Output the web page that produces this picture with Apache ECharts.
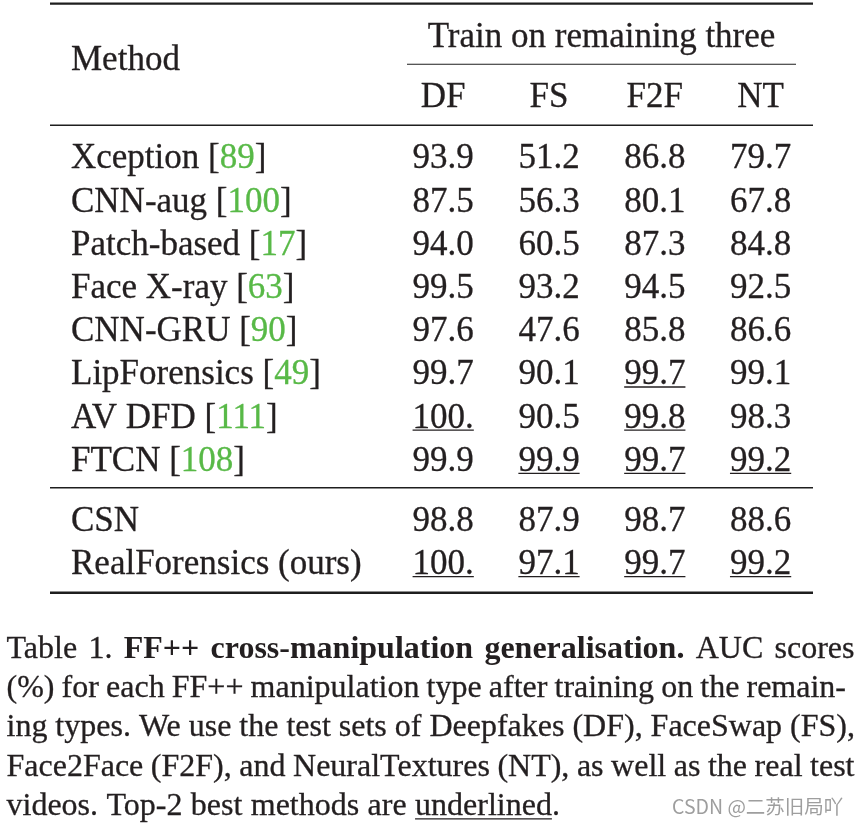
<!DOCTYPE html>
<html><head><meta charset="utf-8">
<script src="https://cdn.jsdelivr.net/npm/echarts@6/dist/echarts.min.js"></script>
<style>html,body{margin:0;padding:0;background:#fff}#c{width:860px;height:826px}</style>
</head><body><div id="c"></div>
<script>
// ---------- data ----------
const columns = ['DF', 'FS', 'F2F', 'NT'];
const baselineMethods = ['Xception', 'CNN-aug', 'Patch-based', 'Face X-ray', 'CNN-GRU', 'LipForensics', 'AV DFD', 'FTCN'];
const baselineRefs = ['89', '100', '17', '63', '90', '49', '111', '108'];
const oursMethods = ['CSN', 'RealForensics (ours)'];
const dfScores  = [93.9, 87.5, 94.0, 99.5, 97.6, 99.7, 100.0, 99.9, 98.8, 100.0];
const fsScores  = [51.2, 56.3, 60.5, 93.2, 47.6, 90.1, 90.5, 99.9, 87.9, 97.1];
const f2fScores = [86.8, 80.1, 87.3, 94.5, 85.8, 99.7, 99.8, 99.7, 98.7, 99.7];
const ntScores  = [79.7, 67.8, 84.8, 92.5, 86.6, 99.1, 98.3, 99.2, 88.6, 99.2];
const dfTop2  = [0, 0, 0, 0, 0, 0, 1, 0, 0, 1];
const fsTop2  = [0, 0, 0, 0, 0, 0, 0, 1, 0, 1];
const f2fTop2 = [0, 0, 0, 0, 0, 1, 1, 1, 0, 1];
const ntTop2  = [0, 0, 0, 0, 0, 0, 0, 1, 0, 1];
const groupHeader = 'Train on remaining three';
const methodHeader = 'Method';
const captionLines = [
  [['Table 1.', false], ['FF++ cross-manipulation generalisation.', true], ['AUC scores', false]],
  [['(%) for each FF++ manipulation type after training on the remain-', false]],
  [['ing types. We use the test sets of Deepfakes (DF), FaceSwap (FS),', false]],
  [['Face2Face (F2F), and NeuralTextures (NT), as well as the real test', false]],
  [['videos. Top-2 best methods are', false], ['underlined', false, true], ['.', false, false, true]]
];
const watermark = 'CSDN @二苏旧局吖';

// ---------- styles ----------
const SERIF = '"Liberation Serif", "Times New Roman", Times, serif';
const INK = '#231f20';
const CITE = '#58b947';
const TFS = 35;            // table font size
const CFS = 32;            // caption font size
const TABLE_FONT = TFS + 'px ' + SERIF;
const MID = 0.22;          // baseline offset below the 'middle' anchor, in em
const THICK = 0.3;         // faux-weight stroke

const mctx = document.createElement('canvas').getContext('2d');
function measure(t, font) { mctx.font = font; return mctx.measureText(t).width; }
function fmt(v) { return v >= 100 ? '100.' : v.toFixed(1); }

const cols = [[dfScores, dfTop2], [fsScores, fsTop2], [f2fScores, f2fTop2], [ntScores, ntTop2]];
const data0 = [], data1 = [];
cols.forEach(([vals, flags], c) => {
  vals.forEach((v, r) => {
    if (r < baselineMethods.length) data0.push([c, r, v, flags[r]]);
    else data1.push([c, r - baselineMethods.length, v, flags[r]]);
  });
});

function renderCell(params, api) {
  const p = api.coord([api.value(0), api.value(1)]);
  const txt = fmt(api.value(2));
  const children = [{
    type: 'text',
    style: { text: txt, x: p[0], y: p[1], font: TABLE_FONT, fill: INK, stroke: INK, lineWidth: THICK,
             align: 'center', verticalAlign: 'middle' }
  }];
  if (api.value(3)) {
    const w = measure(txt, TABLE_FONT);
    const uy = p[1] + TFS * MID + 4;
    children.push({
      type: 'line',
      shape: { x1: p[0] - w / 2, y1: uy, x2: p[0] + w / 2, y2: uy },
      style: { stroke: INK, lineWidth: 1.3 }
    });
  }
  return { type: 'group', children };
}

const refMap = {};
baselineMethods.forEach((m, i) => { refMap[m] = baselineRefs[i]; });
function methodLabel(v) {
  return refMap[v] ? '{n|' + v + ' [}{r|' + refMap[v] + '}{n|]}' : '{n|' + v + '}';
}

const gridLeft = 390.3, gridWidth = 423.2;
const LABEL_X = 71;
const yLabel = {
  align: 'left', margin: gridLeft - LABEL_X, formatter: methodLabel,
  rich: {
    n: { fontFamily: SERIF, fontSize: TFS, color: INK, textBorderColor: INK, textBorderWidth: THICK },
    r: { fontFamily: SERIF, fontSize: TFS, color: CITE, textBorderColor: CITE, textBorderWidth: THICK }
  }
};

// ---------- graphic: rules, headers, caption ----------
const graphics = [];
function rule(x1, x2, y, w) {
  graphics.push({ type: 'line', shape: { x1, y1: y, x2, y2: y }, style: { stroke: '#1e1e1e', lineWidth: w }, silent: true });
}
rule(50, 813, 3.7, 2.2);
rule(407, 796, 64.3, 1.1);
rule(50, 813, 125.3, 1.5);
rule(50, 813, 487.8, 1.5);
rule(50, 813, 592.8, 2.4);

function textAt(text, x, baseline, font, fill, align, size, thick) {
  graphics.push({ type: 'text', silent: true,
    style: { text, x, y: baseline - size * MID, font, fill, stroke: fill, lineWidth: thick,
             align: align || 'left', verticalAlign: 'middle' } });
}
textAt(methodHeader, LABEL_X, 68.3, TABLE_FONT, INK, 'left', TFS, THICK);
textAt(groupHeader, 601.5, 45.2, TABLE_FONT, INK, 'center', TFS, THICK);

// caption, justified
const capLeft = 6.5;
const capRights = [854.5, 846, 855, 854.5, null];
const capBase0 = 656.7, capStep = 39.15;
captionLines.forEach((segs, li) => {
  const words = [];
  segs.forEach(([txt, bold, underline, attach]) => {
    txt.split(' ').forEach(w => { if (w) words.push({ w, bold, underline, attach }); });
  });
  words.forEach(o => { o.font = (o.bold ? 'bold ' : '') + CFS + 'px ' + SERIF; o.width = measure(o.w, o.font); });
  const gaps = words.filter((o, i) => i > 0 && !o.attach).length;
  const total = words.reduce((s, o) => s + o.width, 0);
  const sp = capRights[li] != null ? (capRights[li] - capLeft - total) / gaps : measure(' ', CFS + 'px ' + SERIF) * 1.05;
  const base = capBase0 + capStep * li;
  let x = capLeft;
  words.forEach((o, i) => {
    if (i > 0 && !o.attach) x += sp;
    textAt(o.w, x, base, o.font, INK, 'left', CFS, o.bold ? 0 : THICK);
    if (o.underline) {
      graphics.push({ type: 'line', silent: true,
        shape: { x1: x, y1: base + 5.5, x2: x + o.width, y2: base + 5.5 },
        style: { stroke: INK, lineWidth: 1.3 } });
    }
    x += o.width;
  });
});

graphics.push({ type: 'text', silent: true,
  style: { text: watermark, x: 672, y: 807, font: '19.5px "Noto Sans CJK SC", "Noto Sans", sans-serif', fill: '#9e9e9e', align: 'left', verticalAlign: 'middle' } });

// ---------- chart ----------
const rowTop0 = 167 - TFS * MID - 21.6;
const rowTop1 = 529.3 - TFS * MID - 21.7;
const chart = echarts.init(document.getElementById('c'), null, { renderer: 'canvas' });
chart.setOption({
  animation: false,
  backgroundColor: '#ffffff',
  grid: [
    { left: gridLeft, width: gridWidth, top: rowTop0, height: 345.6 },
    { left: gridLeft, width: gridWidth, top: rowTop1, height: 86.8 }
  ],
  xAxis: [
    { type: 'category', gridIndex: 0, data: columns, position: 'top',
      axisLine: { show: false }, axisTick: { show: false }, splitLine: { show: false },
      axisLabel: { margin: rowTop0 - (106 - TFS * MID), verticalAlign: 'middle', fontFamily: SERIF, fontSize: TFS,
                   color: INK, textBorderColor: INK, textBorderWidth: THICK, interval: 0 } },
    { type: 'category', gridIndex: 1, data: columns, show: false }
  ],
  yAxis: [
    { type: 'category', gridIndex: 0, data: baselineMethods, inverse: true,
      axisLine: { show: false }, axisTick: { show: false }, splitLine: { show: false },
      axisLabel: Object.assign({ interval: 0 }, yLabel) },
    { type: 'category', gridIndex: 1, data: oursMethods, inverse: true,
      axisLine: { show: false }, axisTick: { show: false }, splitLine: { show: false },
      axisLabel: Object.assign({ interval: 0 }, yLabel) }
  ],
  series: [
    { type: 'custom', xAxisIndex: 0, yAxisIndex: 0, data: data0, renderItem: renderCell, silent: true },
    { type: 'custom', xAxisIndex: 1, yAxisIndex: 1, data: data1, renderItem: renderCell, silent: true }
  ],
  graphic: graphics
});
</script>
</body></html>
